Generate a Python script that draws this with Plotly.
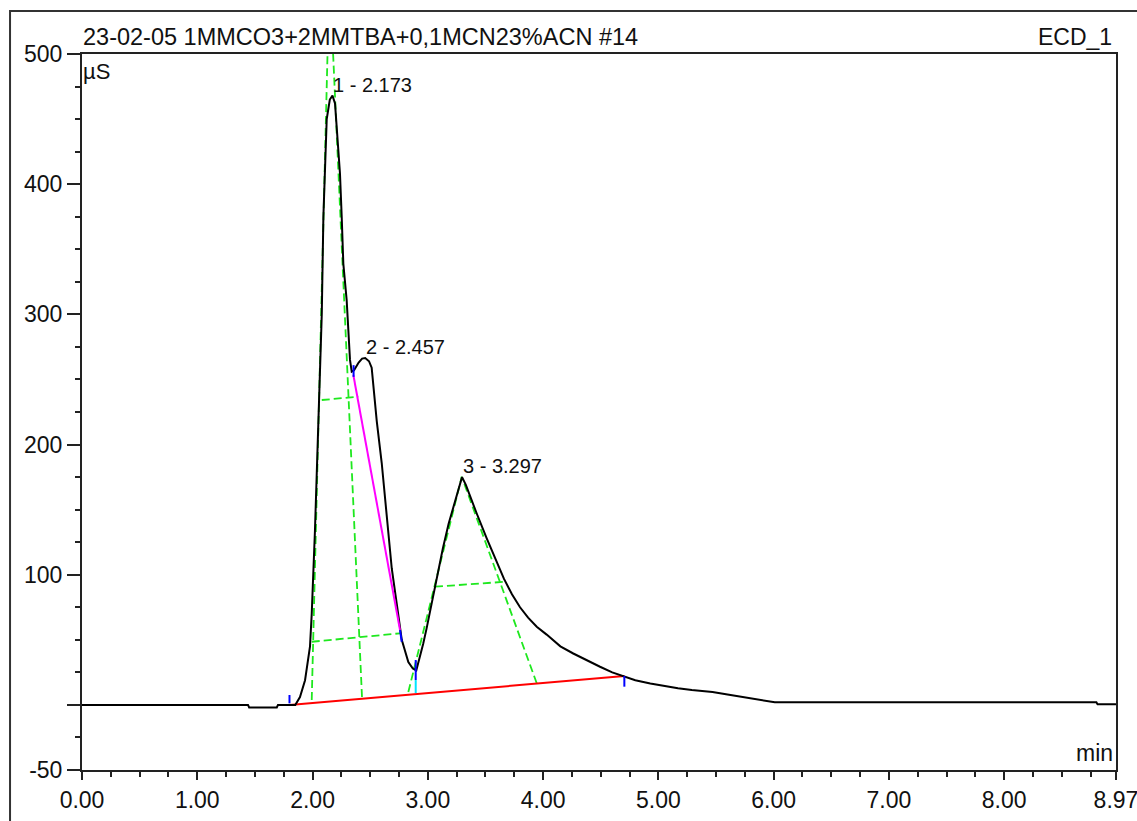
import plotly.graph_objects as go

# ---------------- data ----------------
time_min = [0.00, 1.44, 1.45, 1.69, 1.70, 1.85, 1.891, 1.935, 1.978, 1.993, 2.021, 2.050,
            2.080, 2.094, 2.108, 2.123, 2.150, 2.173, 2.195, 2.210, 2.238, 2.253, 2.267,
            2.296, 2.310, 2.325, 2.340, 2.360, 2.400, 2.430, 2.457, 2.490, 2.513, 2.557,
            2.600, 2.643, 2.687, 2.730, 2.774, 2.831, 2.870, 2.900, 2.930, 2.960, 2.990,
            3.020, 3.050, 3.080, 3.130, 3.180, 3.220, 3.260, 3.297, 3.330, 3.366, 3.420,
            3.511, 3.600, 3.660, 3.730, 3.800, 3.870, 3.945, 4.031, 4.150, 4.262, 4.380,
            4.494, 4.600, 4.700, 4.800, 4.930, 5.050, 5.170, 5.290, 5.470, 5.600, 5.710,
            5.820, 5.910, 6.010, 8.800, 8.810, 8.970]
signal_uS = [0.0, 0.0, -2.0, -2.0, 0.0, 0.0, 6.0, 19.0, 45.0, 70.0, 134.0, 211.0,
             300.0, 375.0, 418.0, 450.0, 465.0, 468.0, 462.0, 440.0, 408.0, 375.0, 339.0,
             311.0, 285.0, 265.0, 256.0, 257.0, 263.0, 266.0, 266.5, 264.0, 259.0, 218.0,
             186.0, 147.0, 105.0, 78.0, 50.0, 33.0, 28.0, 26.5, 36.0, 47.0, 59.0,
             72.0, 86.0, 99.0, 120.0, 139.0, 152.0, 165.0, 175.0, 169.0, 160.0, 148.0,
             128.0, 110.0, 97.0, 85.0, 75.0, 67.0, 60.0, 54.0, 45.0, 39.5, 34.0,
             29.3, 25.0, 22.0, 19.0, 16.5, 14.5, 12.8, 11.4, 9.9, 8.0, 6.5,
             4.9, 3.4, 2.0, 2.0, 0.5, 0.5]

peak_numbers = [1, 2, 3]
peak_times = [2.173, 2.457, 3.297]
peak_heights = [468.0, 266.5, 175.0]

# integration baseline (red)
baseline_time = [1.80, 4.705]
baseline_uS = [0.0, 22.2]

# green construction lines (tangents and width lines), one list per segment
tangent1_left_t = [1.993, 2.147]
tangent1_left_y = [3.8, 562.0]
tangent1_right_t = [2.429, 2.147]
tangent1_right_y = [6.1, 562.0]
half1_t = [2.080, 2.397]
half1_y = [234.2, 236.8]
tenth1_t = [1.993, 2.759]
tenth1_y = [48.5, 55.0]
tangent3_left_t = [2.831, 3.294]
tangent3_left_y = [9.9, 175.3]
tangent3_right_t = [3.945, 3.294]
tangent3_right_y = [16.6, 175.3]
half3_t = [3.062, 3.670]
half3_y = [90.8, 94.6]

# skim line (magenta)
skim_t = [2.354, 2.759]
skim_y = [253.4, 57.5]

# delimiter ticks (blue / cyan)
blue_ticks = [
    ([1.80, 1.80], [1.2, 7.6]),
    ([2.356, 2.356], [252.0, 261.0]),
    ([2.759, 2.774], [57.5, 48.5]),
    ([2.895, 2.895], [19.1, 34.5]),
    ([4.705, 4.705], [14.0, 22.2]),
]
cyan_t = [2.895, 2.895]
cyan_y = [9.1, 19.1]

x_tick_vals = [0, 1, 2, 3, 4, 5, 6, 7, 8, 8.97]
x_tick_text = ["0.00", "1.00", "2.00", "3.00", "4.00", "5.00", "6.00", "7.00", "8.00", "8.97"]
x_minor_vals = [0.25, 0.5, 0.75, 1.25, 1.5, 1.75, 2.25, 2.5, 2.75, 3.25, 3.5, 3.75,
                4.25, 4.5, 4.75, 5.25, 5.5, 5.75, 6.25, 6.5, 6.75, 7.25, 7.5, 7.75,
                8.25, 8.5, 8.75]
y_tick_vals = [-50, 0, 100, 200, 300, 400, 500]
y_tick_text = ["-50", "", "100", "200", "300", "400", "500"]
y_minor_vals = [-25, 25, 50, 75, 125, 150, 175, 225, 250, 275, 325, 350, 375,
                425, 450, 475]

title_text = "23-02-05 1MMCO3+2MMTBA+0,1MCN23%ACN #14"
channel_text = "ECD_1"

# ---------------- figure ----------------
FONT = "Liberation Sans, Arial, sans-serif"
GREEN = "#1ee81e"
fig = go.Figure()

for t, y in [(tangent1_left_t, tangent1_left_y), (tangent1_right_t, tangent1_right_y),
             (half1_t, half1_y), (tenth1_t, tenth1_y),
             (tangent3_left_t, tangent3_left_y), (tangent3_right_t, tangent3_right_y),
             (half3_t, half3_y)]:
    fig.add_trace(go.Scatter(x=t, y=y, mode="lines",
                             line=dict(color=GREEN, width=1.8, dash="8px,4px"),
                             hoverinfo="skip", showlegend=False))

fig.add_trace(go.Scatter(x=baseline_time, y=baseline_uS, mode="lines",
                         line=dict(color="#ff0000", width=2), showlegend=False))

fig.add_trace(go.Scatter(x=time_min, y=signal_uS, mode="lines",
                         line=dict(color="#000000", width=2), showlegend=False))

fig.add_trace(go.Scatter(x=skim_t, y=skim_y, mode="lines",
                         line=dict(color="#ff00ff", width=2), showlegend=False))

for t, y in blue_ticks:
    fig.add_trace(go.Scatter(x=t, y=y, mode="lines",
                             line=dict(color="#0000ff", width=2), showlegend=False))
fig.add_trace(go.Scatter(x=cyan_t, y=cyan_y, mode="lines",
                         line=dict(color="#00e5ff", width=2), showlegend=False))

annotations = []
for n, t, h in zip(peak_numbers, peak_times, peak_heights):
    annotations.append(dict(x=t, y=h, xref="x", yref="y", text=f"{n} - {t:.3f}",
                            showarrow=False, xanchor="left", yanchor="middle",
                            yshift=11, xshift=-1,
                            font=dict(family=FONT, size=20, color="#111111")))

annotations += [
    dict(x=0, y=1, xref="paper", yref="paper", text=title_text, showarrow=False,
         xanchor="left", yanchor="bottom", yshift=2, xshift=-1,
         font=dict(family=FONT, size=23.5, color="#111111")),
    dict(x=1, y=1, xref="paper", yref="paper", text=channel_text, showarrow=False,
         xanchor="right", yanchor="bottom", yshift=2, xshift=-2,
         font=dict(family=FONT, size=23, color="#111111")),
    dict(x=0, y=1, xref="paper", yref="paper", text="µS", showarrow=False,
         xanchor="left", yanchor="top", yshift=-3, xshift=-1,
         font=dict(family=FONT, size=22, color="#111111")),
    dict(x=1, y=0, xref="paper", yref="paper", text="min", showarrow=False,
         xanchor="right", yanchor="bottom", yshift=2, xshift=-1,
         font=dict(family=FONT, size=23, color="#111111")),
]

fig.update_layout(
    width=1137, height=821,
    margin=dict(l=82, r=21, t=54, b=51, pad=0, autoexpand=False),
    paper_bgcolor="white", plot_bgcolor="white",
    showlegend=False,
    annotations=annotations,
    shapes=[dict(type="rect", xref="paper", yref="paper",
                 x0=-0.0696, y0=-0.09, x1=1.04, y1=1.0601,
                 line=dict(color="#333333", width=2), fillcolor="rgba(0,0,0,0)",
                 layer="above")],
    font=dict(family=FONT, size=23, color="#111111"),
)

fig.update_xaxes(range=[0, 8.9702], tickmode="array", tickvals=x_tick_vals, ticktext=x_tick_text,
                 automargin=False, ticklabeloverflow="allow",
                 ticks="outside", ticklen=8, tickwidth=2, tickcolor="#222222",
                 showline=True, linewidth=2, linecolor="#222222", mirror=True,
                 showgrid=False, zeroline=False,
                 tickfont=dict(family=FONT, size=23, color="#111111"),
                 minor=dict(tickmode="array", tickvals=x_minor_vals, ticks="outside",
                            ticklen=5, tickwidth=2, tickcolor="#222222", showgrid=False))
fig.update_yaxes(range=[-50, 500], tickmode="array", tickvals=y_tick_vals, ticktext=y_tick_text,
                 automargin=False, ticklabeloverflow="allow",
                 ticks="outside", ticklen=13, tickwidth=2, tickcolor="#222222",
                 showline=True, linewidth=2, linecolor="#222222", mirror=True,
                 showgrid=False, zeroline=False,
                 tickfont=dict(family=FONT, size=23, color="#111111"),
                 minor=dict(tickmode="array", tickvals=y_minor_vals, ticks="outside",
                            ticklen=5, tickwidth=2, tickcolor="#222222", showgrid=False))

fig.write_html("out.html")
